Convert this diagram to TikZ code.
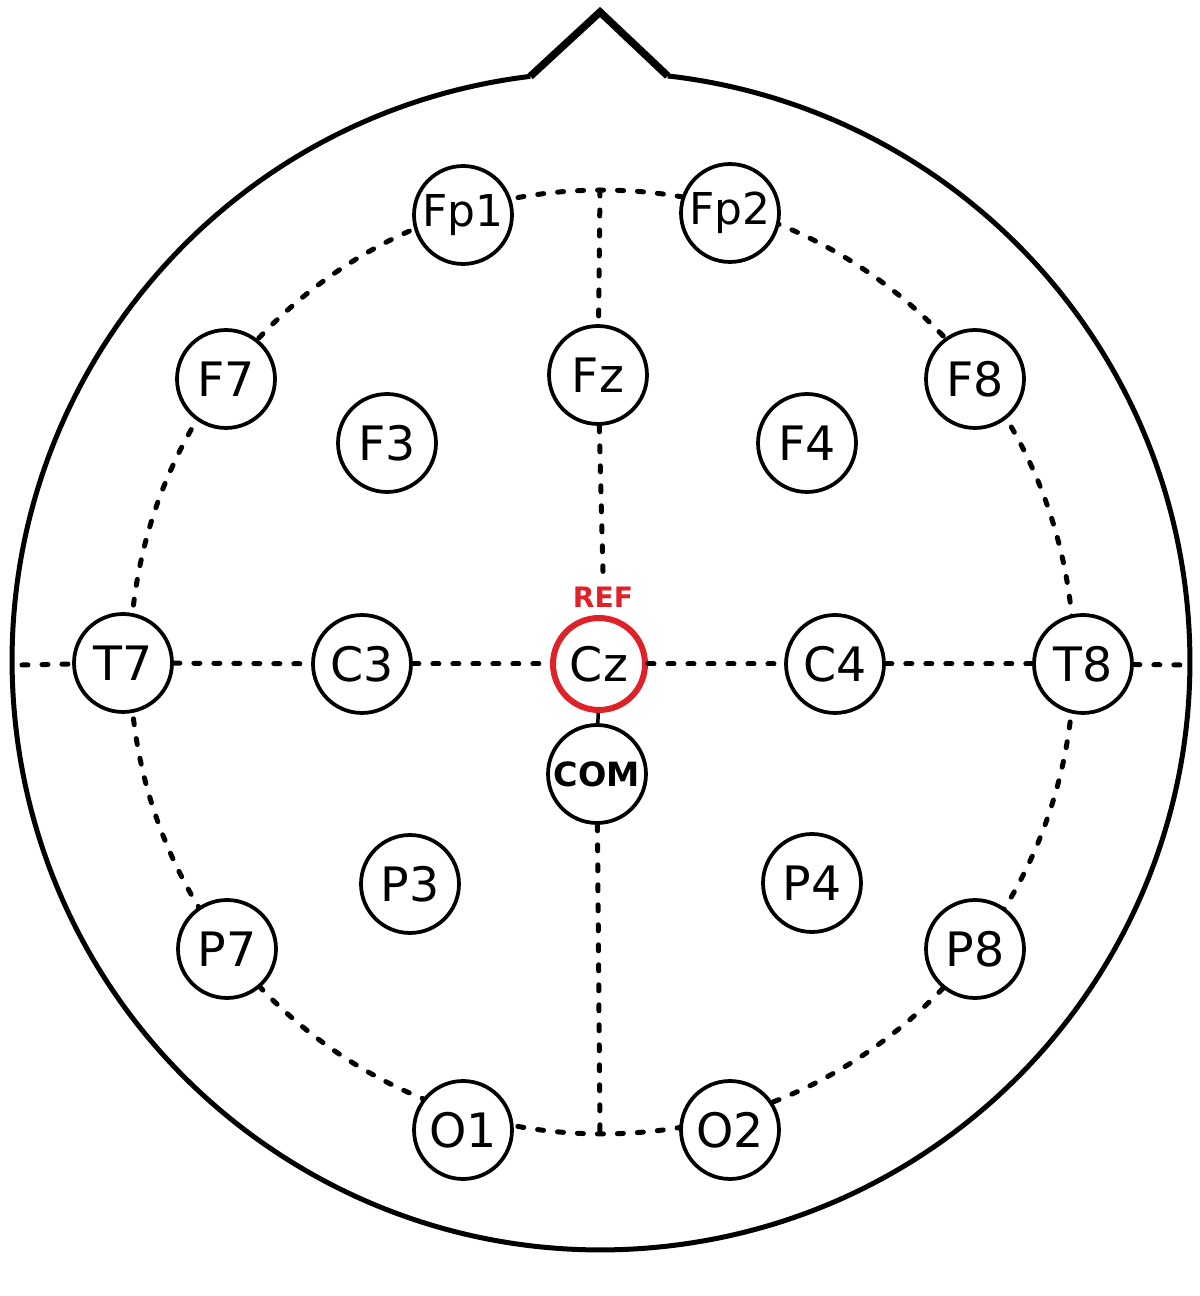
\documentclass[tikz,border=0pt]{standalone}
\usepackage{fontspec}
\setmainfont{DejaVu Sans}
\definecolor{refred}{RGB}{222,34,40}
\begin{document}
\begin{tikzpicture}[x=0.02cm,y=0.02cm,
  elec/.style={circle,draw=black,line width=0.075cm,fill=white,minimum size=1.96cm,inner sep=0pt,font=\fontsize{27}{27}\selectfont},
  fpfont/.style={font=\fontsize{25}{25}\selectfont},
  dline/.style={line width=0.1cm,dash pattern=on 0.12cm off 0.28cm,line cap=round}]
\useasboundingbox (0,0) rectangle (1200,1296);
\fill[white] (0,0) rectangle (1200,1296);
% head outline
\coordinate (hc) at (601,635);
\coordinate (apex) at (600,1284);
\draw[line width=0.1cm] (hc) ++(96.9:11.78cm) coordinate (nl)
  arc[start angle=96.9,end angle=443.5,radius=11.78cm] coordinate (nr);
\draw[line width=0.15cm,line join=miter] (nl) -- (apex) -- (nr);
% dashed circle
\coordinate (dc) at (602,634);
\draw[dline] (dc) circle[radius=9.44cm];
% electrodes
\node[elec,fpfont] (Fp1) at (463,1081) {Fp1};
\node[elec,fpfont] (Fp2) at (730,1083) {Fp2};
\node[elec] (F7) at (226,917) {F7};
\node[elec] (Fz) at (598,921) {Fz};
\node[elec] (F8) at (975,917) {F8};
\node[elec] (F3) at (387,853) {F3};
\node[elec] (F4) at (807,853) {F4};
\node[elec] (T7) at (123,633) {T7};
\node[elec] (C3) at (362,632) {C3};
\node[elec,draw=refred,line width=0.12cm,minimum size=1.84cm] (Cz) at (599,632) {Cz};
\node[elec] (C4) at (835,632) {C4};
\node[elec] (T8) at (1083,632) {T8};
\node[elec,font=\fontsize{19}{19}\bfseries\selectfont] (COM) at (597,522) {COM};
\node[elec] (P3) at (410,412) {P3};
\node[elec] (P4) at (812,413) {P4};
\node[elec] (P7) at (227,347) {P7};
\node[elec] (P8) at (975,347) {P8};
\node[elec] (O1) at (463,166) {O1};
\node[elec] (O2) at (730,166) {O2};
\node[text=refred,font=\fontsize{16}{16}\bfseries\selectfont,inner sep=0pt] (ref) at (603,699) {REF};
% connectors
\coordinate (hl) at (22,631);
\coordinate (hr) at (1185,631);
\coordinate (vt) at (600,1106);
\coordinate (vb) at (600,162);
\draw[dline] (hl) -- (T7);
\draw[dline] (T7) -- (C3);
\draw[dline] (C3) -- (Cz);
\draw[dline] (Cz) -- (C4);
\draw[dline] (C4) -- (T8);
\draw[dline] (T8) -- (hr);
\draw[dline] (vt) -- (Fz);
\draw[dline] (Fz) -- ([yshift=0.3cm]ref.north);
\draw[line width=0.07cm] (Cz) -- (COM);
\draw[dline] (COM) -- (vb);
\end{tikzpicture}
\end{document}
